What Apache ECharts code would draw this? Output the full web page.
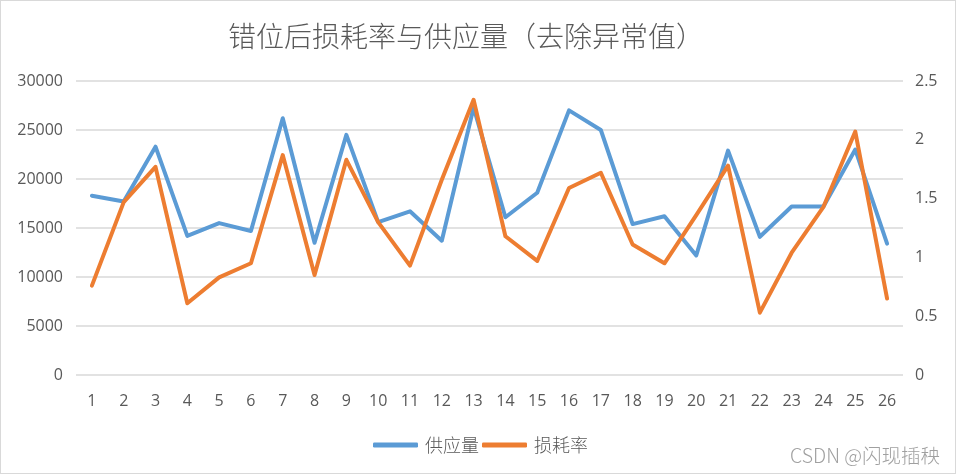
<!DOCTYPE html>
<html>
<head>
<meta charset="utf-8">
<script src="https://cdn.jsdelivr.net/npm/echarts@6/dist/echarts.min.js"></script>
<style>
  html, body { margin: 0; padding: 0; background: #fff; }
  #main { width: 954px; height: 472px; border: 1px solid #d9d9d9; }
</style>
</head>
<body>
<div id="main"></div>
<script>
// 横轴 1..26
let categories = ['1', '2', '3', '4', '5', '6', '7', '8', '9', '10', '11', '12', '13',
    '14', '15', '16', '17', '18', '19', '20', '21', '22', '23', '24', '25', '26'];

// 供应量（左轴）
let supply = [18300, 17700, 23300, 14200, 15500, 14700, 26200, 13500, 24500, 15600, 16700, 13700, 27300,
    16100, 18600, 27000, 25000, 15400, 16200, 12200, 22900, 14100, 17200, 17200, 23000, 13400];

// 损耗率（右轴）
let lossRate = [0.76, 1.47, 1.77, 0.61, 0.83, 0.95, 1.87, 0.85, 1.83, 1.30, 0.93, 1.66, 2.34,
    1.18, 0.97, 1.59, 1.72, 1.11, 0.95, 1.36, 1.78, 0.53, 1.04, 1.43, 2.07, 0.65];

let myChart = echarts.init(document.getElementById('main'));

let labelFont = {
    color: '#595959',
    fontSize: 16,
    fontFamily: 'Open Sans'
};

let option = {
    animation: false,
    title: {
        text: '错位后损耗率与供应量（去除异常值）',
        left: 222,
        top: 16,
        textStyle: {
            color: '#595959',
            fontSize: 28,
            fontWeight: 300,
            fontFamily: 'Noto Sans CJK SC'
        }
    },
    legend: {
        left: 367,
        top: 430,
        itemWidth: 45,
        itemHeight: 5,
        itemGap: 3,
        icon: 'roundRect',
        textStyle: {
            color: '#595959',
            fontSize: 18,
            fontWeight: 300,
            fontFamily: 'Noto Sans CJK SC',
            padding: [0, 0, 0, 2]
        },
        data: ['供应量', '损耗率']
    },
    grid: {
        left: 75,
        right: 52,
        top: 80,
        bottom: 98
    },
    xAxis: {
        type: 'category',
        data: categories,
        boundaryGap: true,
        axisLine: { show: false },
        axisTick: { show: false },
        axisLabel: Object.assign({ margin: 18 }, labelFont)
    },
    yAxis: [{
        type: 'value',
        min: 0,
        max: 30000,
        interval: 5000,
        axisLine: { show: false },
        axisTick: { show: false },
        axisLabel: Object.assign({
            margin: 13,
            formatter: function (v) { return String(v); }
        }, labelFont),
        splitLine: { lineStyle: { color: '#d9d9d9', width: 1.5 } }
    }, {
        type: 'value',
        min: 0,
        max: 2.5,
        interval: 0.5,
        axisLine: { show: false },
        axisTick: { show: false },
        axisLabel: Object.assign({ margin: 12 }, labelFont),
        splitLine: { show: false }
    }],
    series: [{
        name: '供应量',
        type: 'line',
        yAxisIndex: 0,
        data: supply,
        symbol: 'none',
        color: '#5b9bd5',
        lineStyle: { width: 4, cap: 'round', join: 'round' }
    }, {
        name: '损耗率',
        type: 'line',
        yAxisIndex: 1,
        data: lossRate,
        symbol: 'none',
        color: '#ed7d31',
        lineStyle: { width: 4, cap: 'round', join: 'round' }
    }],
    graphic: [{
        type: 'text',
        right: 15,
        top: 445,
        style: {
            text: 'CSDN @闪现插秧',
            fill: '#a0a0a0',
            fontSize: 19.5,
            fontWeight: 300,
            fontFamily: 'Noto Sans CJK SC'
        }
    }]
};

myChart.setOption(option);
</script>
</body>
</html>
